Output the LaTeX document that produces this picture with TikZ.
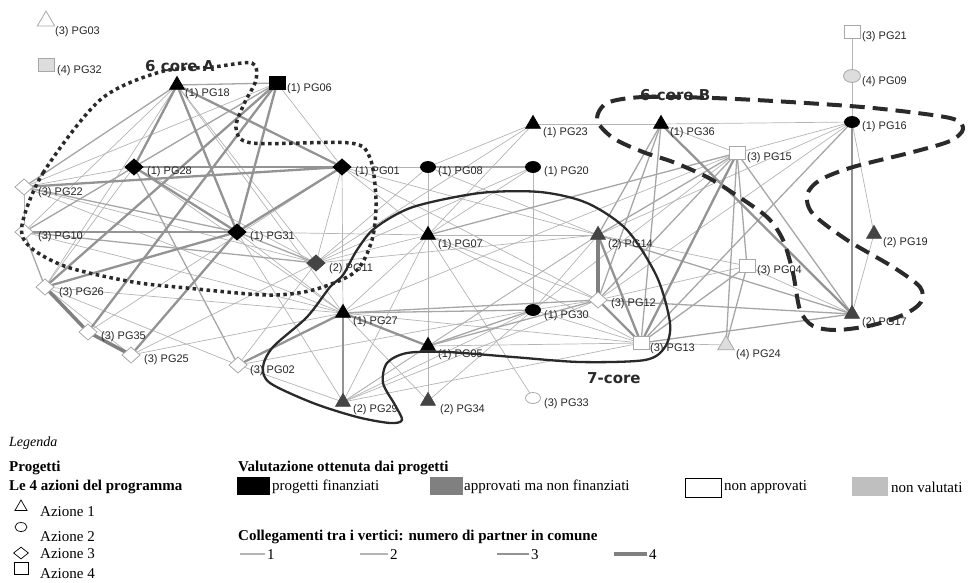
\documentclass[tikz,border=0pt]{standalone}
\usepackage{fontspec}
\setmainfont{Liberation Serif}
\newfontfamily\labfont{Liberation Sans}
\newfontfamily\corefont{DejaVu Sans}
\usetikzlibrary{shapes.geometric,calc}
\pgfdeclarelayer{bg}
\pgfsetlayers{bg,main}
\definecolor{dk}{HTML}{444444}
\definecolor{nodeedge}{HTML}{A8A8A8}
\definecolor{lightfill}{HTML}{DDDDDD}
\definecolor{cA}{HTML}{B4B4B4}
\definecolor{cB}{HTML}{A6A6A6}
\definecolor{cC}{HTML}{939393}
\definecolor{cD}{HTML}{808080}
\definecolor{core}{HTML}{2A2A2A}
\newcommand\pg[5]{\node[#2] (#1) at (#3) {}; \node[lab] (#1t) at ($(#3)+(#4)$) {#5};}
\tikzset{
 base/.style={inner sep=0pt, outer sep=0pt, line width=0.8pt},
 tri/.style={base, regular polygon, regular polygon sides=3, minimum size=17pt, yshift=-2pt},
 dia/.style={base, diamond, minimum width=18pt, minimum height=16pt},
 sq/.style={base, rectangle, minimum width=16pt, minimum height=13pt},
 ell/.style={base, ellipse, minimum width=15pt, minimum height=11pt},
 fin/.style={fill=black, draw=black},
 app/.style={fill=dk, draw=dk},
 nap/.style={fill=white, draw=nodeedge},
 nv/.style={fill=lightfill, draw=nodeedge},
 lab/.style={font=\labfont\fontsize{11}{13}\selectfont, anchor=west, inner sep=0pt, text=black!85},
 e1/.style={draw=cA, line width=0.7pt},
 e2/.style={draw=cB, line width=1.3pt},
 e3/.style={draw=cC, line width=2.3pt},
 e4/.style={draw=cD, line width=3.5pt},
 corelab/.style={font=\corefont\bfseries\fontsize{15}{17}\selectfont, anchor=west, inner sep=0pt, text=core},
 legtxt/.style={font=\fontsize{15}{17}\selectfont, anchor=west, inner sep=0pt},
 legbold/.style={font=\bfseries\fontsize{15}{17}\selectfont, anchor=west, inner sep=0pt},
 legsym/.style={draw=black, line width=0.7pt, inner sep=0pt, fill=white},
 legbox/.style={minimum width=33pt, minimum height=18pt, anchor=north west, inner sep=0pt},
}
\begin{document}
\begin{tikzpicture}[x=1pt,y=-1pt]
\useasboundingbox (0,0) rectangle (968,582);
% ---------- nodes ----------
\pg{PG03}{tri,nap,minimum size=20pt}{46,19}{9,13}{(3) PG03}
\pg{PG32}{sq,nv}{46,65}{11,6}{(4) PG32}
\pg{PG18}{tri,fin}{177,83}{8,11}{(1) PG18}
\pg{PG06}{sq,fin}{277,83}{10,6}{(1) PG06}
\pg{PG28}{dia,fin}{134,167}{13,5}{(1) PG28}
\pg{PG01}{dia,fin}{342,167}{13,5}{(1) PG01}
\pg{PG08}{ell,fin}{428,167}{10,5}{(1) PG08}
\pg{PG20}{ell,fin}{533,167}{11,5}{(1) PG20}
\pg{PG23}{tri,fin}{533,122}{10,11}{(1) PG23}
\pg{PG36}{tri,fin}{661,122}{9,11}{(1) PG36}
\pg{PG15}{sq,nap}{737,153}{10,5}{(3) PG15}
\pg{PG16}{ell,fin}{852,122}{10,5}{(1) PG16}
\pg{PG21}{sq,nap}{852,32}{10,5}{(3) PG21}
\pg{PG09}{ell,nv,minimum width=17pt,minimum height=13pt}{852,76}{10,6}{(4) PG09}
\pg{PG19}{tri,app}{874,232}{9,11}{(2) PG19}
\pg{PG17}{tri,app}{852,312}{10,11}{(2) PG17}
\pg{PG04}{sq,nap}{747,266}{10,5}{(3) PG04}
\pg{PG24}{tri,nv,minimum size=19pt}{726,343}{10,12}{(4) PG24}
\pg{PG13}{sq,nap}{641,343}{9,6}{(3) PG13}
\pg{PG12}{dia,nap}{598,300}{13,4}{(3) PG12}
\pg{PG14}{tri,app}{598,233}{10,12}{(2) PG14}
\pg{PG30}{ell,fin}{533,310}{11,6}{(1) PG30}
\pg{PG07}{tri,fin}{428,233}{10,12}{(1) PG07}
\pg{PG05}{tri,fin}{428,344}{10,11}{(1) PG05}
\pg{PG33}{ell,nap}{533,398}{11,6}{(3) PG33}
\pg{PG34}{tri,app}{428,399}{12,11}{(2) PG34}
\pg{PG29}{tri,app}{343,400}{10,10}{(2) PG29}
\pg{PG27}{tri,fin}{343,311}{10,11}{(1) PG27}
\pg{PG02}{dia,nap}{238,365}{12,6}{(3) PG02}
\pg{PG11}{dia,app}{316,263}{13,6}{(2) PG11}
\pg{PG31}{dia,fin}{237,232}{13,5}{(1) PG31}
\pg{PG22}{dia,nap}{24,187}{14,6}{(3) PG22}
\pg{PG10}{dia,nap}{24,232}{14,5}{(3) PG10}
\pg{PG26}{dia,nap}{45,287}{14,6}{(3) PG26}
\pg{PG35}{dia,nap}{88,332}{13,5}{(3) PG35}
\pg{PG25}{dia,nap}{131,355}{13,5}{(3) PG25}
% ---------- edges ----------
\begin{pgfonlayer}{bg}
\foreach \a/\b in {PG06/PG01, PG06/PG22, PG06/PG10, PG18/PG10, PG18/PG26, PG18/PG11, PG18/PG27,
 PG28/PG22, PG28/PG26, PG28/PG11, PG28/PG27, PG22/PG10, PG22/PG11, PG22/PG27, PG10/PG27,
 PG26/PG27, PG26/PG25, PG26/PG02, PG35/PG01, PG25/PG11, PG25/PG27, PG02/PG29, PG02/PG11,
 PG02/PG30, PG31/PG07, PG31/PG27, PG31/PG29, PG01/PG11, PG01/PG08, PG01/PG27, PG01/PG07,
 PG01/PG14, PG01/PG12, PG11/PG08, PG11/PG07, PG11/PG20, PG11/PG14, PG11/PG23, PG27/PG07,
 PG27/PG34, PG27/PG13, PG27/PG15, PG29/PG05, PG29/PG30, PG29/PG12, PG29/PG13, PG29/PG14,
 PG29/PG07, PG05/PG07, PG05/PG13, PG05/PG14, PG05/PG34, PG34/PG07, PG34/PG30, PG33/PG07,
 PG08/PG07, PG08/PG23, PG08/PG14, PG20/PG30, PG20/PG07, PG23/PG36, PG23/PG07, PG07/PG14,
 PG07/PG12, PG07/PG13, PG36/PG16, PG36/PG15, PG15/PG16, PG15/PG30, PG16/PG09, PG09/PG21,
 PG16/PG19, PG19/PG17, PG16/PG14, PG16/PG12, PG17/PG04, PG04/PG14, PG24/PG13, PG13/PG30,
 PG12/PG30, PG14/PG30, PG12/PG04}
 \draw[e1] (\a.center) -- (\b.center);
\foreach \a/\b in {PG18/PG06, PG18/PG22, PG06/PG28, PG28/PG10, PG28/PG02, PG22/PG31, PG10/PG11,
 PG10/PG26, PG31/PG11, PG08/PG20, PG27/PG30, PG27/PG12, PG05/PG30, PG05/PG12, PG07/PG15,
 PG36/PG14, PG36/PG12, PG15/PG12, PG15/PG14, PG15/PG04, PG15/PG24, PG15/PG17, PG16/PG13,
 PG17/PG14, PG17/PG12, PG17/PG13, PG04/PG24, PG04/PG13, PG13/PG36}
 \draw[e2] (\a.center) -- (\b.center);
\foreach \a/\b in {PG18/PG28, PG18/PG31, PG18/PG01, PG06/PG31, PG06/PG26, PG06/PG35, PG28/PG01,
 PG28/PG31, PG22/PG01, PG10/PG31, PG26/PG31, PG25/PG31, PG31/PG01, PG27/PG29, PG27/PG02,
 PG27/PG05, PG16/PG17, PG36/PG17, PG15/PG13, PG14/PG13, PG12/PG13}
 \draw[e3] (\a.center) -- (\b.center);
\foreach \a/\b in {PG26/PG35, PG35/PG25, PG14/PG12}
 \draw[e4] (\a.center) -- (\b.center);
\end{pgfonlayer}
% ---------- cores ----------
\draw[core, line width=3.5pt, dash pattern=on 3.5pt off 3.5pt]
 plot[smooth cycle, tension=0.5] coordinates {(22,225) (43,173) (100,100) (160,72) (213,67) (252,63)
 (256,80) (244,104) (236,128) (252,143) (350,143) (370,158) (376,200) (372,240) (355,272) (313,290)
 (267,295) (187,288) (133,282) (67,267) (30,247)};
\draw[core, line width=4pt, dash pattern=on 15pt off 8pt]
 plot[smooth cycle, tension=0.5] coordinates {(607,103) (643,97) (713,98) (790,102) (873,108) (950,118)
 (963,129) (950,141) (913,152) (853,167) (820,180) (807,195) (813,214) (847,240) (893,267) (920,287)
 (921,302) (905,314) (873,325) (837,330) (813,326) (800,310) (793,273) (783,240) (767,217) (733,193)
 (707,177) (673,162) (643,152) (613,138) (597,120)};
\draw[core, line width=2.3pt]
 plot[smooth cycle, tension=0.5] coordinates {(343,275) (357,250) (375,228) (413,207) (480,193) (540,192)
 (587,203) (627,230) (657,277) (670,323) (665,347) (645,360) (580,362) (513,357) (447,352) (407,353)
 (387,363) (383,383) (395,405) (402,420) (390,423) (357,417) (313,403) (270,383) (263,367) (273,347)
 (307,317) (330,287)};
\node[corelab] (coreA) at (145,66) {6 core A};
\node[corelab] (coreB) at (640,95) {6-core B};
\node[corelab] (core7) at (587,378) {7-core};
% ---------- legend ----------
\node[legtxt, font=\itshape\fontsize{14}{16}\selectfont] (legenda) at (9,443) {Legenda};
\node[legbold] (progetti) at (9,468) {Progetti};
\node[legbold] (azioni) at (9,487) {Le 4 azioni del programma};
\node[legsym, regular polygon, regular polygon sides=3, minimum size=14pt] (sym1) at (21,507) {};
\node[legtxt] (az1) at (40,512) {Azione 1};
\node[legsym, ellipse, minimum width=12pt, minimum height=9pt] (sym2) at (21,527) {};
\node[legtxt] (az2) at (40,537) {Azione 2};
\node[legsym, diamond, minimum width=15pt, minimum height=12pt] (sym3) at (21,553) {};
\node[legtxt] (az3) at (40,554) {Azione 3};
\node[legsym, rectangle, minimum width=14pt, minimum height=12pt] (sym4) at (21,568) {};
\node[legtxt] (az4) at (40,574) {Azione 4};
\node[legbold] (valut) at (238,468) {Valutazione ottenuta dai progetti};
\node[legbox, fill=black] (bx1) at (237,477) {};
\node[legtxt] (tx1) at (272,487) {progetti finanziati};
\node[legbox, fill=black!50] (bx2) at (430,477) {};
\node[legtxt] (tx2) at (464,487) {approvati ma non finanziati};
\node[legbox, draw=black, line width=1.2pt, minimum width=36pt, minimum height=19pt] (bx3) at (685,477.5) {};
\node[legtxt] (tx3) at (724,487) {non approvati};
\node[legbox, fill=black!25, minimum width=36pt, minimum height=19pt] (bx4) at (852,477) {};
\node[legtxt] (tx4) at (891,487) {non valutati};
\node[legbold] (colleg) at (238,537) {Collegamenti tra i vertici: numero di partner in comune};
\coordinate (l1a) at (240,554); \coordinate (l1b) at (265,554);
\coordinate (l2a) at (360,554); \coordinate (l2b) at (388,554);
\coordinate (l3a) at (497,554); \coordinate (l3b) at (529,554);
\coordinate (l4a) at (614,554); \coordinate (l4b) at (647,554);
\draw[draw=cA, line width=1.2pt] (l1a) -- (l1b);
\draw[draw=cA, line width=2pt] (l2a) -- (l2b);
\draw[draw=cC, line width=2.5pt] (l3a) -- (l3b);
\draw[draw=cD, line width=3.5pt] (l4a) -- (l4b);
\node[legtxt] (n1) at (267,555) {1};
\node[legtxt] (n2) at (390,555) {2};
\node[legtxt] (n3) at (531,555) {3};
\node[legtxt] (n4) at (649,555) {4};
\end{tikzpicture}
\end{document}
